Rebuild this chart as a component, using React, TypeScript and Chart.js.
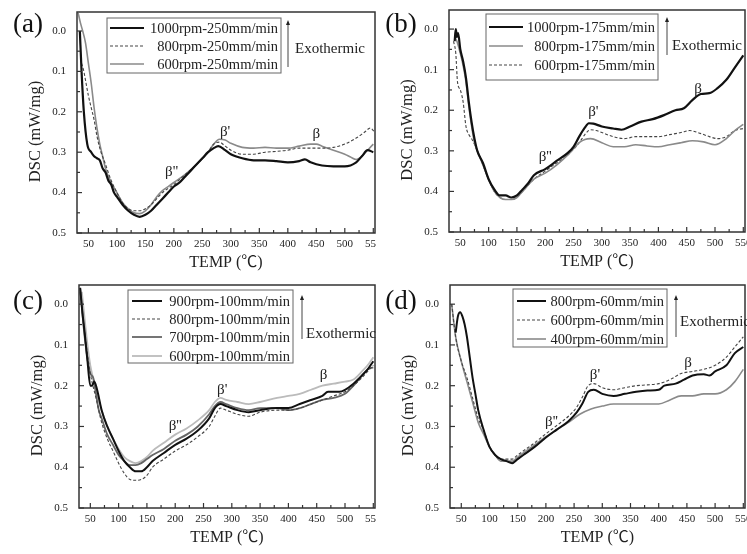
import React, { useEffect, useRef } from "react";
import { Chart, registerables } from "chart.js";

Chart.register(...registerables);

const FONT = "'Liberation Serif', 'Times New Roman', 'Noto Sans CJK SC', serif";

// ---------- axes ----------
const X_MIN = 30;
const X_MAX = 553;
const Y_MIN = -0.047;
const Y_MAX = 0.5;
const xTickValues = [50, 100, 150, 200, 250, 300, 350, 400, 450, 500, 550];
const xMinorValues = [75, 125, 175, 225, 275, 325, 375, 425, 475, 525];
const yTickValues = [0, 0.1, 0.2, 0.3, 0.4, 0.5];
const yMinorValues = [0.05, 0.15, 0.25, 0.35, 0.45];
const xTitle = "TEMP (℃)";
const yTitle = "DSC (mW/mg)";
const exoText = "Exothermic";

// ---------- panel (a) ----------
const a1000Label = "1000rpm-250mm/min";
const a1000T = [35, 38, 42, 48, 55, 60, 65, 70, 75, 80, 85, 90, 95, 100, 110, 120, 130, 140, 150, 160, 170, 180, 190, 200, 210, 220, 230, 240, 250, 260, 270, 278, 290, 300, 320, 340, 360, 380, 400, 420, 430, 440, 460, 480, 500, 520, 530, 540, 550];
const a1000V = [0.00, 0.10, 0.20, 0.28, 0.30, 0.31, 0.315, 0.32, 0.34, 0.35, 0.37, 0.38, 0.40, 0.41, 0.43, 0.445, 0.455, 0.46, 0.455, 0.445, 0.43, 0.415, 0.40, 0.385, 0.375, 0.36, 0.345, 0.33, 0.315, 0.30, 0.29, 0.285, 0.295, 0.305, 0.315, 0.32, 0.32, 0.322, 0.325, 0.322, 0.318, 0.325, 0.333, 0.335, 0.335, 0.325, 0.31, 0.295, 0.30];
const a800Label = "800rpm-250mm/min";
const a800T = [38, 42, 46, 50, 55, 60, 65, 70, 80, 90, 100, 110, 120, 130, 140, 150, 160, 180, 200, 220, 240, 260, 270, 280, 290, 300, 320, 340, 360, 380, 400, 420, 440, 460, 480, 500, 520, 535, 545, 552];
const a800V = [0.08, 0.10, 0.13, 0.16, 0.19, 0.22, 0.26, 0.29, 0.33, 0.37, 0.40, 0.425, 0.44, 0.445, 0.445, 0.44, 0.43, 0.40, 0.38, 0.355, 0.33, 0.30, 0.28, 0.275, 0.285, 0.295, 0.305, 0.305, 0.30, 0.298, 0.295, 0.29, 0.29, 0.29, 0.288, 0.28, 0.265, 0.25, 0.24, 0.25];
const a600Label = "600rpm-250mm/min";
const a600T = [32, 36, 40, 45, 50, 55, 60, 65, 70, 75, 80, 90, 100, 110, 120, 130, 140, 150, 160, 170, 180, 190, 200, 220, 240, 260, 270, 280, 290, 300, 320, 340, 360, 380, 400, 420, 440, 450, 460, 480, 500, 510, 520, 530, 540, 550];
const a600V = [-0.045, -0.02, 0.0, 0.03, 0.08, 0.13, 0.19, 0.24, 0.28, 0.31, 0.34, 0.375, 0.40, 0.425, 0.44, 0.45, 0.452, 0.445, 0.43, 0.41, 0.395, 0.385, 0.375, 0.355, 0.33, 0.30, 0.28, 0.268, 0.27, 0.278, 0.288, 0.29, 0.288, 0.29, 0.29, 0.285, 0.28, 0.28, 0.285, 0.295, 0.305, 0.312, 0.318, 0.31, 0.295, 0.28];

// ---------- panel (b) ----------
const b1000Label = "1000rpm-175mm/min";
const b1000T = [40, 42, 44, 46, 50, 55, 60, 65, 70, 75, 80, 90, 100, 110, 120, 130, 140, 150, 160, 170, 180, 200, 220, 240, 250, 260, 270, 277, 285, 300, 320, 335, 350, 370, 390, 410, 430, 445, 460, 475, 490, 505, 520, 535, 550];
const b1000V = [0.03, 0.0, 0.02, 0.01, 0.05, 0.08, 0.12, 0.18, 0.23, 0.27, 0.30, 0.33, 0.37, 0.395, 0.41, 0.41, 0.415, 0.41, 0.395, 0.38, 0.36, 0.345, 0.325, 0.305, 0.29, 0.265, 0.243, 0.232, 0.233, 0.24, 0.245, 0.248, 0.24, 0.228, 0.222, 0.212, 0.20, 0.195, 0.175, 0.16, 0.158, 0.145, 0.125, 0.095, 0.065];
const b800Label = "800rpm-175mm/min";
const b800T = [40, 44, 50, 55, 60, 65, 70, 75, 80, 90, 100, 110, 120, 130, 140, 150, 160, 180, 200, 220, 240, 250, 260, 270, 280, 300, 320, 340, 360, 380, 400, 420, 440, 460, 480, 500, 520, 535, 550];
const b800V = [0.02, 0.03, 0.06, 0.09, 0.13, 0.19, 0.24, 0.28, 0.30, 0.335, 0.37, 0.40, 0.415, 0.42, 0.42, 0.415, 0.40, 0.37, 0.355, 0.335, 0.31, 0.295, 0.28, 0.272, 0.27, 0.28, 0.29, 0.29, 0.285, 0.288, 0.29, 0.285, 0.28, 0.275, 0.278, 0.285, 0.27, 0.25, 0.235];
const b600Label = "600rpm-175mm/min";
const b600T = [38, 42, 45, 50, 55, 60, 65, 70, 80, 90, 100, 110, 120, 130, 140, 150, 160, 180, 200, 220, 240, 260, 270, 280, 290, 300, 320, 340, 360, 380, 400, 420, 440, 455, 470, 490, 505, 520, 535, 550];
const b600V = [0.03, 0.06, 0.13, 0.15, 0.18, 0.24, 0.26, 0.27, 0.30, 0.335, 0.37, 0.40, 0.415, 0.42, 0.42, 0.415, 0.40, 0.37, 0.35, 0.33, 0.31, 0.28, 0.26, 0.248, 0.25, 0.255, 0.265, 0.27, 0.265, 0.265, 0.265, 0.26, 0.255, 0.25, 0.255, 0.265, 0.27, 0.265, 0.25, 0.245];

// ---------- panel (c) ----------
const c900Label = "900rpm-100mm/min";
const c900T = [32, 36, 40, 45, 50, 53, 57, 62, 70, 80, 90, 100, 110, 120, 130, 140, 150, 160, 180, 200, 220, 240, 260, 270, 280, 290, 310, 330, 350, 380, 400, 420, 440, 460, 470, 490, 500, 515, 530, 540, 550];
const c900V = [-0.04, 0.02, 0.07, 0.14, 0.20, 0.20, 0.19, 0.21, 0.26, 0.30, 0.33, 0.36, 0.385, 0.40, 0.41, 0.41, 0.40, 0.385, 0.365, 0.345, 0.33, 0.31, 0.28, 0.255, 0.245, 0.25, 0.26, 0.265, 0.26, 0.255, 0.255, 0.245, 0.235, 0.225, 0.215, 0.215, 0.21, 0.195, 0.175, 0.16, 0.14];
const c800Label = "800rpm-100mm/min";
const c800T = [32, 40, 50, 60, 70, 80, 90, 100, 110, 120, 130, 140, 150, 160, 180, 200, 220, 240, 260, 270, 280, 290, 310, 330, 350, 380, 400, 420, 440, 460, 480, 500, 515, 530, 540, 550];
const c800V = [-0.03, 0.07, 0.17, 0.23, 0.29, 0.33, 0.36, 0.39, 0.415, 0.43, 0.432, 0.43, 0.42, 0.40, 0.38, 0.36, 0.345, 0.325, 0.30, 0.275, 0.255, 0.26, 0.27, 0.275, 0.265, 0.26, 0.26, 0.255, 0.245, 0.235, 0.225, 0.215, 0.20, 0.18, 0.165, 0.15];
const c700Label = "700rpm-100mm/min";
const c700T = [32, 40, 50, 55, 60, 65, 70, 80, 90, 100, 110, 120, 130, 140, 150, 160, 180, 200, 220, 240, 260, 270, 280, 290, 310, 330, 350, 380, 400, 420, 440, 460, 480, 500, 515, 530, 540, 550];
const c700V = [-0.04, 0.08, 0.17, 0.18, 0.22, 0.26, 0.28, 0.32, 0.345, 0.37, 0.385, 0.395, 0.395, 0.39, 0.38, 0.37, 0.355, 0.335, 0.32, 0.30, 0.27, 0.25, 0.24, 0.245, 0.255, 0.26, 0.255, 0.255, 0.26, 0.255, 0.245, 0.235, 0.23, 0.22, 0.20, 0.175, 0.16, 0.155];
const c600Label = "600rpm-100mm/min";
const c600T = [35, 45, 50, 60, 70, 80, 90, 100, 110, 120, 130, 140, 150, 160, 180, 200, 220, 240, 260, 270, 280, 290, 310, 330, 350, 380, 400, 420, 440, 460, 480, 500, 515, 530, 540, 550];
const c600V = [-0.03, 0.10, 0.15, 0.21, 0.26, 0.30, 0.33, 0.355, 0.375, 0.385, 0.39, 0.385, 0.375, 0.36, 0.34, 0.32, 0.305, 0.285, 0.26, 0.24, 0.23, 0.235, 0.24, 0.245, 0.24, 0.23, 0.225, 0.22, 0.21, 0.20, 0.195, 0.19, 0.185, 0.165, 0.15, 0.13];

// ---------- panel (d) ----------
const d800Label = "800rpm-60mm/min";
const d800T = [40, 44, 48, 52, 56, 60, 65, 70, 75, 80, 90, 100, 110, 120, 130, 140, 150, 160, 180, 200, 220, 240, 255, 265, 275, 285, 300, 320, 340, 360, 380, 400, 410, 430, 445, 460, 480, 490, 500, 520, 535, 550];
const d800V = [0.07, 0.03, 0.02, 0.03, 0.05, 0.08, 0.13, 0.18, 0.22, 0.26, 0.31, 0.35, 0.37, 0.38, 0.385, 0.39, 0.38, 0.37, 0.35, 0.327, 0.307, 0.287, 0.265, 0.243, 0.215, 0.21, 0.22, 0.225, 0.22, 0.215, 0.212, 0.21, 0.20, 0.195, 0.185, 0.175, 0.172, 0.175, 0.165, 0.15, 0.12, 0.105];
const d600Label = "600rpm-60mm/min";
const d600T = [33, 40, 50, 60, 70, 80, 90, 100, 110, 120, 130, 140, 150, 160, 180, 200, 220, 240, 255, 265, 275, 285, 300, 320, 340, 360, 380, 400, 420, 440, 460, 480, 500, 520, 535, 550];
const d600V = [0.0, 0.08, 0.14, 0.18, 0.23, 0.28, 0.31, 0.35, 0.37, 0.38, 0.38, 0.38, 0.37, 0.36, 0.34, 0.318, 0.297, 0.275, 0.252, 0.227, 0.20, 0.195, 0.205, 0.21, 0.205, 0.20, 0.198, 0.195, 0.185, 0.17, 0.165, 0.16, 0.15, 0.13, 0.105, 0.08];
const d400Label = "400rpm-60mm/min";
const d400T = [33, 40, 50, 60, 70, 80, 90, 100, 110, 120, 130, 140, 150, 160, 180, 200, 220, 240, 260, 280, 300, 320, 340, 360, 380, 400, 420, 440, 460, 480, 500, 520, 535, 550];
const d400V = [0.0, 0.08, 0.14, 0.19, 0.24, 0.29, 0.32, 0.35, 0.37, 0.385, 0.385, 0.385, 0.375, 0.365, 0.345, 0.325, 0.307, 0.29, 0.27, 0.257, 0.25, 0.245, 0.245, 0.245, 0.245, 0.245, 0.235, 0.225, 0.225, 0.22, 0.22, 0.21, 0.19, 0.16];

// ---------- annotation labels ----------
const betaLabels = ["β''", "β'", "β"];
const aBetaT = [196, 290, 450];
const aBetaV = [0.35, 0.25, 0.255];
const bBetaT = [200, 285, 470];
const bBetaV = [0.315, 0.205, 0.148];
const cBetaT = [200, 283, 462];
const cBetaV = [0.30, 0.21, 0.175];
const dBetaT = [210, 287, 452];
const dBetaV = [0.29, 0.174, 0.145];

// ---------- styling / layout ----------
interface SeriesDef { label: string; temps: number[]; dsc: number[]; color: string; width: number; dash: number[]; }
interface PanelDef {
  tag: string;
  left: number; top: number; w: number; h: number;
  area: { left: number; top: number; right: number; bottom: number };
  series: SeriesDef[];
  legend: { x1: number; y1: number; x2: number; y2: number; rows: number[]; lineX1: number; lineX2: number; textRight: number };
  exo: { x: number; y1: number; y2: number; tx: number; ty: number };
  betaT: number[]; betaV: number[];
}

const BLACK = "#111111";
const DASH = "#444444";
const GRAY = "#8a8a8a";
const DARKGRAY = "#666666";
const LIGHTGRAY = "#bbbbbb";

const panels: PanelDef[] = [
  {
    tag: "(a)", left: 0, top: 0, w: 376, h: 277,
    area: { left: 77, top: 12, right: 375, bottom: 233 },
    series: [
      { label: a1000Label, temps: a1000T, dsc: a1000V, color: BLACK, width: 2.2, dash: [] },
      { label: a800Label, temps: a800T, dsc: a800V, color: DASH, width: 1.1, dash: [3, 2] },
      { label: a600Label, temps: a600T, dsc: a600V, color: GRAY, width: 1.6, dash: [] },
    ],
    legend: { x1: 107, y1: 18, x2: 281, y2: 73, rows: [28, 46, 64], lineX1: 110, lineX2: 144, textRight: 278 },
    exo: { x: 288, y1: 20, y2: 67, tx: 295, ty: 49 },
    betaT: aBetaT, betaV: aBetaV,
  },
  {
    tag: "(b)", left: 373, top: 0, w: 374, h: 277,
    area: { left: 76, top: 10, right: 372, bottom: 232 },
    series: [
      { label: b1000Label, temps: b1000T, dsc: b1000V, color: BLACK, width: 2.2, dash: [] },
      { label: b800Label, temps: b800T, dsc: b800V, color: GRAY, width: 1.6, dash: [] },
      { label: b600Label, temps: b600T, dsc: b600V, color: DASH, width: 1.1, dash: [3, 2] },
    ],
    legend: { x1: 113, y1: 14, x2: 285, y2: 80, rows: [27, 46, 65], lineX1: 116, lineX2: 150, textRight: 282 },
    exo: { x: 294, y1: 17, y2: 55, tx: 299, ty: 46 },
    betaT: bBetaT, betaV: bBetaV,
  },
  {
    tag: "(c)", left: 0, top: 277, w: 376, h: 277,
    area: { left: 79, top: 8, right: 375, bottom: 231 },
    series: [
      { label: c900Label, temps: c900T, dsc: c900V, color: BLACK, width: 2, dash: [] },
      { label: c800Label, temps: c800T, dsc: c800V, color: DASH, width: 1.1, dash: [3, 2] },
      { label: c700Label, temps: c700T, dsc: c700V, color: DARKGRAY, width: 1.8, dash: [] },
      { label: c600Label, temps: c600T, dsc: c600V, color: LIGHTGRAY, width: 1.8, dash: [] },
    ],
    legend: { x1: 128, y1: 13, x2: 293, y2: 86, rows: [24, 42, 60, 79], lineX1: 132, lineX2: 162, textRight: 290 },
    exo: { x: 302, y1: 18, y2: 62, tx: 306, ty: 57 },
    betaT: cBetaT, betaV: cBetaV,
  },
  {
    tag: "(d)", left: 373, top: 277, w: 374, h: 277,
    area: { left: 77, top: 8, right: 372, bottom: 231 },
    series: [
      { label: d800Label, temps: d800T, dsc: d800V, color: BLACK, width: 2, dash: [] },
      { label: d600Label, temps: d600T, dsc: d600V, color: DASH, width: 1.1, dash: [3, 2] },
      { label: d400Label, temps: d400T, dsc: d400V, color: GRAY, width: 1.6, dash: [] },
    ],
    legend: { x1: 140, y1: 12, x2: 294, y2: 70, rows: [24, 43, 62], lineX1: 144, lineX2: 173, textRight: 291 },
    exo: { x: 303, y1: 18, y2: 60, tx: 307, ty: 45 },
    betaT: dBetaT, betaV: dBetaV,
  },
];

function decorPlugin(def: PanelDef) {
  return {
    id: "decor" + def.tag,
    afterDraw(chart: any) {
      const ctx: CanvasRenderingContext2D = chart.ctx;
      const a = chart.chartArea;
      const xs = chart.scales.x;
      const ys = chart.scales.y;
      const line = (x1: number, y1: number, x2: number, y2: number) => {
        ctx.beginPath();
        ctx.moveTo(x1, y1);
        ctx.lineTo(x2, y2);
        ctx.stroke();
      };
      ctx.save();
      // inward tick marks
      ctx.strokeStyle = "#333";
      ctx.lineWidth = 1.2;
      ctx.setLineDash([]);
      xTickValues.forEach((v) => { const p = xs.getPixelForValue(v); line(p, a.bottom, p, a.bottom - 5); });
      xMinorValues.forEach((v) => { const p = xs.getPixelForValue(v); line(p, a.bottom, p, a.bottom - 3); });
      yTickValues.forEach((v) => { const p = ys.getPixelForValue(v); line(a.left, p, a.left + 5, p); });
      yMinorValues.forEach((v) => { const p = ys.getPixelForValue(v); line(a.left, p, a.left + 3, p); });
      // frame
      ctx.lineWidth = 1.5;
      ctx.strokeRect(a.left, a.top, a.right - a.left, a.bottom - a.top);
      // axis titles
      ctx.fillStyle = "#222";
      ctx.font = `16px ${FONT}`;
      ctx.textAlign = "center";
      ctx.textBaseline = "middle";
      ctx.fillText(xTitle, (a.left + a.right) / 2, a.bottom + 30);
      ctx.save();
      ctx.font = `16.5px ${FONT}`;
      ctx.translate(a.left - 41, (a.top + a.bottom) / 2 + 9);
      ctx.rotate(-Math.PI / 2);
      ctx.fillText(yTitle, 0, 0);
      ctx.restore();
      // panel tag
      ctx.font = `27px ${FONT}`;
      ctx.fillStyle = "#111";
      ctx.fillText(def.tag, 28, 25);
      // legend
      const L = def.legend;
      ctx.strokeStyle = "#666";
      ctx.lineWidth = 1;
      ctx.strokeRect(L.x1, L.y1, L.x2 - L.x1, L.y2 - L.y1);
      def.series.forEach((s, i) => {
        const y = L.rows[i];
        ctx.strokeStyle = s.color;
        ctx.lineWidth = s.width;
        ctx.setLineDash(s.dash);
        line(L.lineX1, y, L.lineX2, y);
        ctx.setLineDash([]);
        ctx.fillStyle = "#222";
        ctx.font = `14.5px ${FONT}`;
        ctx.textAlign = "right";
        ctx.fillText(s.label, L.textRight, y + 1);
      });
      // exothermic arrow
      const E = def.exo;
      ctx.strokeStyle = "#444";
      ctx.fillStyle = "#222";
      ctx.lineWidth = 1;
      line(E.x, E.y2, E.x, E.y1 + 3);
      ctx.beginPath();
      ctx.moveTo(E.x, E.y1);
      ctx.lineTo(E.x - 2, E.y1 + 5);
      ctx.lineTo(E.x + 2, E.y1 + 5);
      ctx.closePath();
      ctx.fill();
      ctx.font = `15px ${FONT}`;
      ctx.textAlign = "left";
      ctx.fillText(exoText, E.tx, E.ty);
      // beta annotations
      ctx.textAlign = "center";
      ctx.font = `15px ${FONT}`;
      betaLabels.forEach((t, i) => {
        ctx.fillText(t, xs.getPixelForValue(def.betaT[i]), ys.getPixelForValue(def.betaV[i]));
      });
      ctx.restore();
    },
  };
}

function Panel({ def }: { def: PanelDef }) {
  const ref = useRef<HTMLCanvasElement>(null);
  useEffect(() => {
    const canvas = ref.current!;
    const chart = new Chart(canvas, {
      type: "line",
      data: {
        datasets: def.series.map((s) => ({
          label: s.label,
          data: s.temps.map((t, i) => ({ x: t, y: s.dsc[i] })),
          borderColor: s.color,
          borderWidth: s.width,
          borderDash: s.dash,
          pointRadius: 0,
          fill: false,
          cubicInterpolationMode: "monotone" as const,
        })),
      },
      options: {
        responsive: false,
        animation: false,
        devicePixelRatio: 1,
        events: [],
        layout: { padding: { left: 0, top: def.area.top, right: def.w - def.area.right, bottom: 0 } },
        plugins: { legend: { display: false }, tooltip: { enabled: false }, title: { display: false } },
        scales: {
          x: {
            type: "linear",
            position: "bottom",
            min: X_MIN,
            max: X_MAX,
            grid: { display: false, drawTicks: false },
            border: { display: false },
            ticks: { padding: 5, color: "#222", font: { family: FONT, size: 11 }, maxRotation: 0, autoSkip: false, includeBounds: false },
            afterBuildTicks: (s: any) => { s.ticks = xTickValues.map((v) => ({ value: v })); },
            afterFit: (s: any) => { s.height = def.h - def.area.bottom; s.paddingLeft = 0; s.paddingRight = 0; },
          },
          y: {
            type: "linear",
            reverse: true,
            min: Y_MIN,
            max: Y_MAX,
            grid: { display: false, drawTicks: false },
            border: { display: false },
            ticks: { padding: 11, color: "#222", font: { family: FONT, size: 11 }, autoSkip: false, callback: (v: any) => Number(v).toFixed(1) },
            afterBuildTicks: (s: any) => { s.ticks = yTickValues.map((v) => ({ value: v })); },
            afterFit: (s: any) => { s.width = def.area.left; s.paddingTop = 0; s.paddingBottom = 0; },
          },
        },
      } as any,
      plugins: [decorPlugin(def)],
    });
    return () => chart.destroy();
  }, [def]);
  return (
    <canvas
      ref={ref}
      width={def.w}
      height={def.h}
      style={{ position: "absolute", left: def.left, top: def.top, width: def.w, height: def.h }}
    />
  );
}

export default function App() {
  return (
    <div style={{ position: "absolute", left: 0, top: 0, width: 747, height: 554, background: "#fff", overflow: "hidden" }}>
      {panels.map((p) => (
        <Panel key={p.tag} def={p} />
      ))}
    </div>
  );
}
